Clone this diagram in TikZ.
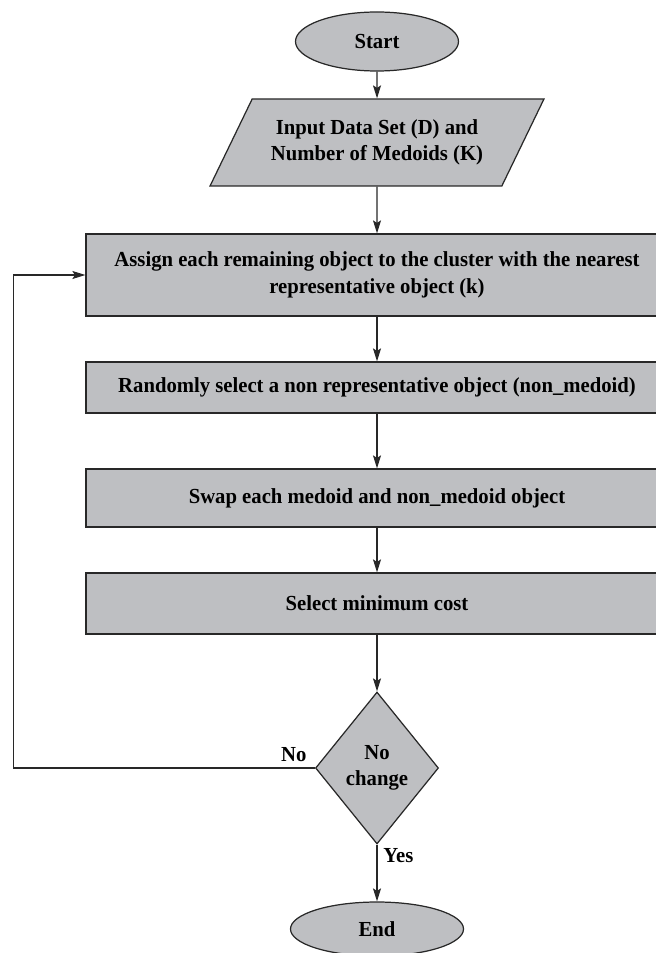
\documentclass[tikz,border=0pt]{standalone}
\usepackage{fontspec}
\setmainfont{Liberation Serif}[FakeStretch=0.965]
\usetikzlibrary{calc,shapes.geometric,arrows.meta}

\definecolor{boxgray}{RGB}{190,191,194}
\definecolor{linegray}{RGB}{40,40,40}

\begin{document}
\begin{tikzpicture}[
  every node/.style={font=\bfseries\fontsize{12.2}{15}\selectfont, align=center, text=black},
  shapebox/.style={draw=linegray, fill=boxgray, line width=0.7pt},
  terminal/.style={shapebox, ellipse, inner sep=0pt},
  inout/.style={shapebox, trapezium, trapezium left angle=52, trapezium right angle=128,
    trapezium stretches, minimum width=6.68cm, minimum height=1.74cm, inner sep=0pt},
  process/.style={shapebox, rectangle, minimum width=11.64cm},
  decision/.style={shapebox, diamond, minimum width=2.46cm, minimum height=3.04cm, inner sep=0pt},
  flow/.style={draw=linegray, line width=0.7pt, -{Stealth[length=0.26cm, width=0.16cm, inset=0.05cm]}}
]
\useasboundingbox (0,0) rectangle (13.1,-19.06);

\pgfmathsetmacro{\mx}{7.54}
\coordinate (loop) at (0.27,0);

\node[terminal, minimum width=3.26cm, minimum height=1.18cm] (start) at (\mx,-0.83) {Start};
\node[inout] (input) at (\mx,-2.85) {Input Data Set (D) and\\Number of Medoids (K)};
\node[process, minimum height=1.64cm] (assign) at (\mx,-5.50) {Assign each remaining object to the cluster with the nearest\\representative object (k)};
\node[process, minimum height=1.02cm] (random) at (\mx,-7.75) {Randomly select a non representative object (non\_medoid)};
\node[process, minimum height=1.16cm] (swap) at (\mx,-9.96) {Swap each medoid and non\_medoid object};
\node[process, minimum height=1.22cm] (mincost) at (\mx,-12.07) {Select minimum cost};
\node[decision] (nochange) at (\mx,-15.36) {No\\change};
\node[terminal, minimum width=3.46cm, minimum height=1.08cm] (stop) at (\mx,-18.58) {End};

\draw[flow] (start) -- (input);
\draw[flow] (input) -- (assign);
\draw[flow] (assign) -- (random);
\draw[flow] (random) -- (swap);
\draw[flow] (swap) -- (mincost);
\draw[flow] (mincost) -- (nochange);
\draw[flow] (nochange) -- node[right, pos=0.2] {Yes} (stop);
\draw[flow] (nochange.west) -- node[above, pos=0.07] {No} (nochange.west -| loop) |- (assign.west);

\end{tikzpicture}
\end{document}
